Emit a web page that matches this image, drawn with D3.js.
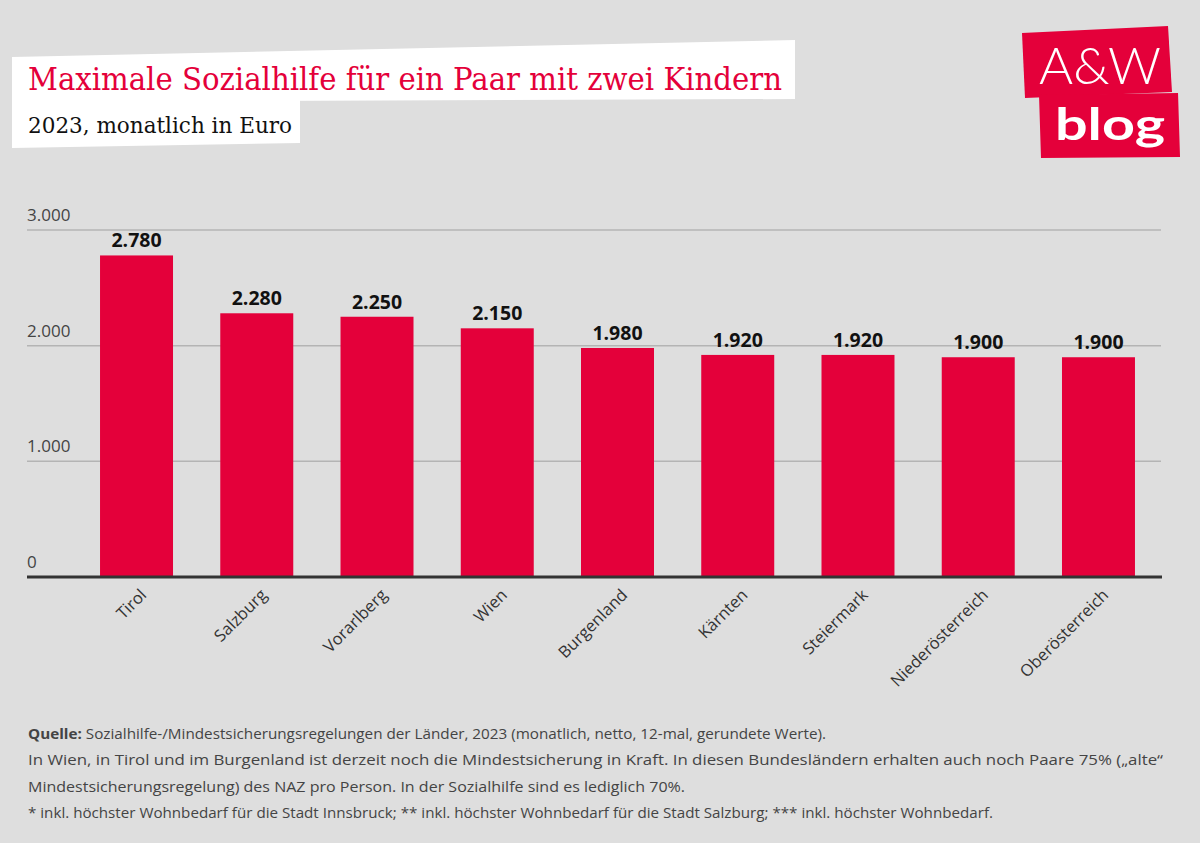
<!DOCTYPE html>
<html><head><meta charset="utf-8">
<script src="https://cdn.jsdelivr.net/npm/d3@7"></script>
<style>body{margin:0;background:#dedede;} svg{display:block;}</style>
</head><body>
<svg id="c" width="1200" height="843"></svg>
<script>
const categories = ["Tirol","Salzburg","Vorarlberg","Wien","Burgenland","Kärnten","Steiermark","Niederösterreich","Oberösterreich"];
const values = [2780,2280,2250,2150,1980,1920,1920,1900,1900];
const yTicks = [0,1000,2000,3000];
const title = "Maximale Sozialhilfe für ein Paar mit zwei Kindern";
const subtitle = "2023, monatlich in Euro";
const notes = [
  ["Quelle:", " Sozialhilfe-/Mindestsicherungsregelungen der Länder, 2023 (monatlich, netto, 12-mal, gerundete Werte)."],
  ["", "In Wien, in Tirol und im Burgenland ist derzeit noch die Mindestsicherung in Kraft. In diesen Bundesländern erhalten auch noch Paare 75% („alte“"],
  ["", "Mindestsicherungsregelung) des NAZ pro Person. In der Sozialhilfe sind es lediglich 70%."],
  ["", "* inkl. höchster Wohnbedarf für die Stadt Innsbruck; ** inkl. höchster Wohnbedarf für die Stadt Salzburg; *** inkl. höchster Wohnbedarf."]
];

const RED = "#e4003a";
const svg = d3.select("#c");
svg.append("rect").attr("width",1200).attr("height",843).attr("fill","#dedede");

// Title boxes
svg.append("polygon").attr("points","12,57 795,40 795,99 12,102").attr("fill","#fff");
svg.append("polygon").attr("points","12,100 300,100 300,143 12,148").attr("fill","#fff");
svg.append("text").attr("x",28).attr("y",90).attr("font-family","'DejaVu Serif Condensed', 'Liberation Serif', serif")
  .attr("font-size",32).attr("fill",RED).attr("textLength",754).attr("lengthAdjust","spacingAndGlyphs").text(title);
svg.append("text").attr("x",28).attr("y",133).attr("font-family","'DejaVu Serif Condensed', 'Liberation Serif', serif")
  .attr("font-size",23).attr("fill","#111").attr("textLength",264).attr("lengthAdjust","spacingAndGlyphs").text(subtitle);

// Logo
svg.append("polygon").attr("points","1022,33 1168,26 1172,92 1025,98").attr("fill",RED);
svg.append("polygon").attr("points","1039,95 1178,93 1180,157 1041,158").attr("fill",RED);
svg.append("text").attr("x",1100).attr("y",84).attr("text-anchor","middle").attr("font-family","Lato, sans-serif")
  .attr("font-weight",300).attr("font-size",52).attr("fill","#fff").attr("textLength",122).attr("lengthAdjust","spacingAndGlyphs").text("A&W");
svg.append("text").attr("x",1110).attr("y",140).attr("text-anchor","middle").attr("font-family","Lato, sans-serif")
  .attr("font-weight",700).attr("font-size",44).attr("fill","#fff").attr("textLength",110).attr("lengthAdjust","spacingAndGlyphs").text("blog");

// Scales
const y = d3.scaleLinear().domain([0,3000]).range([577,230]);
const x = d3.scaleBand().domain(categories).range([76.4,1158.6]).paddingInner(0.393).paddingOuter(0.1965);
const fmt = v => d3.format(",")(v).replace(/,/g,".");

// Grid
const grid = svg.append("g");
yTicks.filter(t=>t>0).forEach(t=>{
  grid.append("line").attr("x1",27).attr("x2",1161).attr("y1",y(t)).attr("y2",y(t))
    .attr("stroke","#b4b4b4").attr("stroke-width",1.5);
});
yTicks.forEach(t=>{
  grid.append("text").attr("x",27).attr("y",y(t)-9).attr("font-family","Open Sans, sans-serif")
    .attr("font-size",17).attr("fill","#444").text(fmt(t));
});

// Bars
svg.append("g").selectAll("rect").data(values).join("rect")
  .attr("x",(d,i)=>x(categories[i])).attr("width",x.bandwidth())
  .attr("y",d=>y(d)).attr("height",d=>y(0)-y(d)).attr("fill",RED);

svg.append("g").selectAll("text").data(values).join("text")
  .attr("x",(d,i)=>x(categories[i])+x.bandwidth()/2).attr("y",d=>y(d)-8)
  .attr("text-anchor","middle").attr("font-family","Open Sans, sans-serif").attr("font-weight",700)
  .attr("font-size",19.5).attr("fill","#111").text(d=>fmt(d));

// Axis line
svg.append("line").attr("x1",27).attr("x2",1162).attr("y1",y(0)).attr("y2",y(0)).attr("stroke","#333").attr("stroke-width",3);

// X labels
svg.append("g").selectAll("text").data(categories).join("text")
  .attr("transform",d=>`translate(${x(d)+x.bandwidth()/2+11},596) rotate(-45)`)
  .attr("text-anchor","end").attr("font-family","Open Sans, sans-serif").attr("font-size",16.5)
  .attr("fill","#333").text(d=>d);

// Notes
const noteY = [739,765,792,818];
const noteW = [798,1135,657,965];
notes.forEach((n,i)=>{
  const t = svg.append("text").attr("x",28).attr("y",noteY[i]).attr("font-family","Open Sans, sans-serif")
    .attr("font-size",15).attr("fill","#444").attr("textLength",noteW[i]).attr("lengthAdjust","spacingAndGlyphs");
  if(n[0]) t.append("tspan").attr("font-weight",700).text(n[0]);
  t.append("tspan").text(n[1]);
});
</script>
</body></html>
